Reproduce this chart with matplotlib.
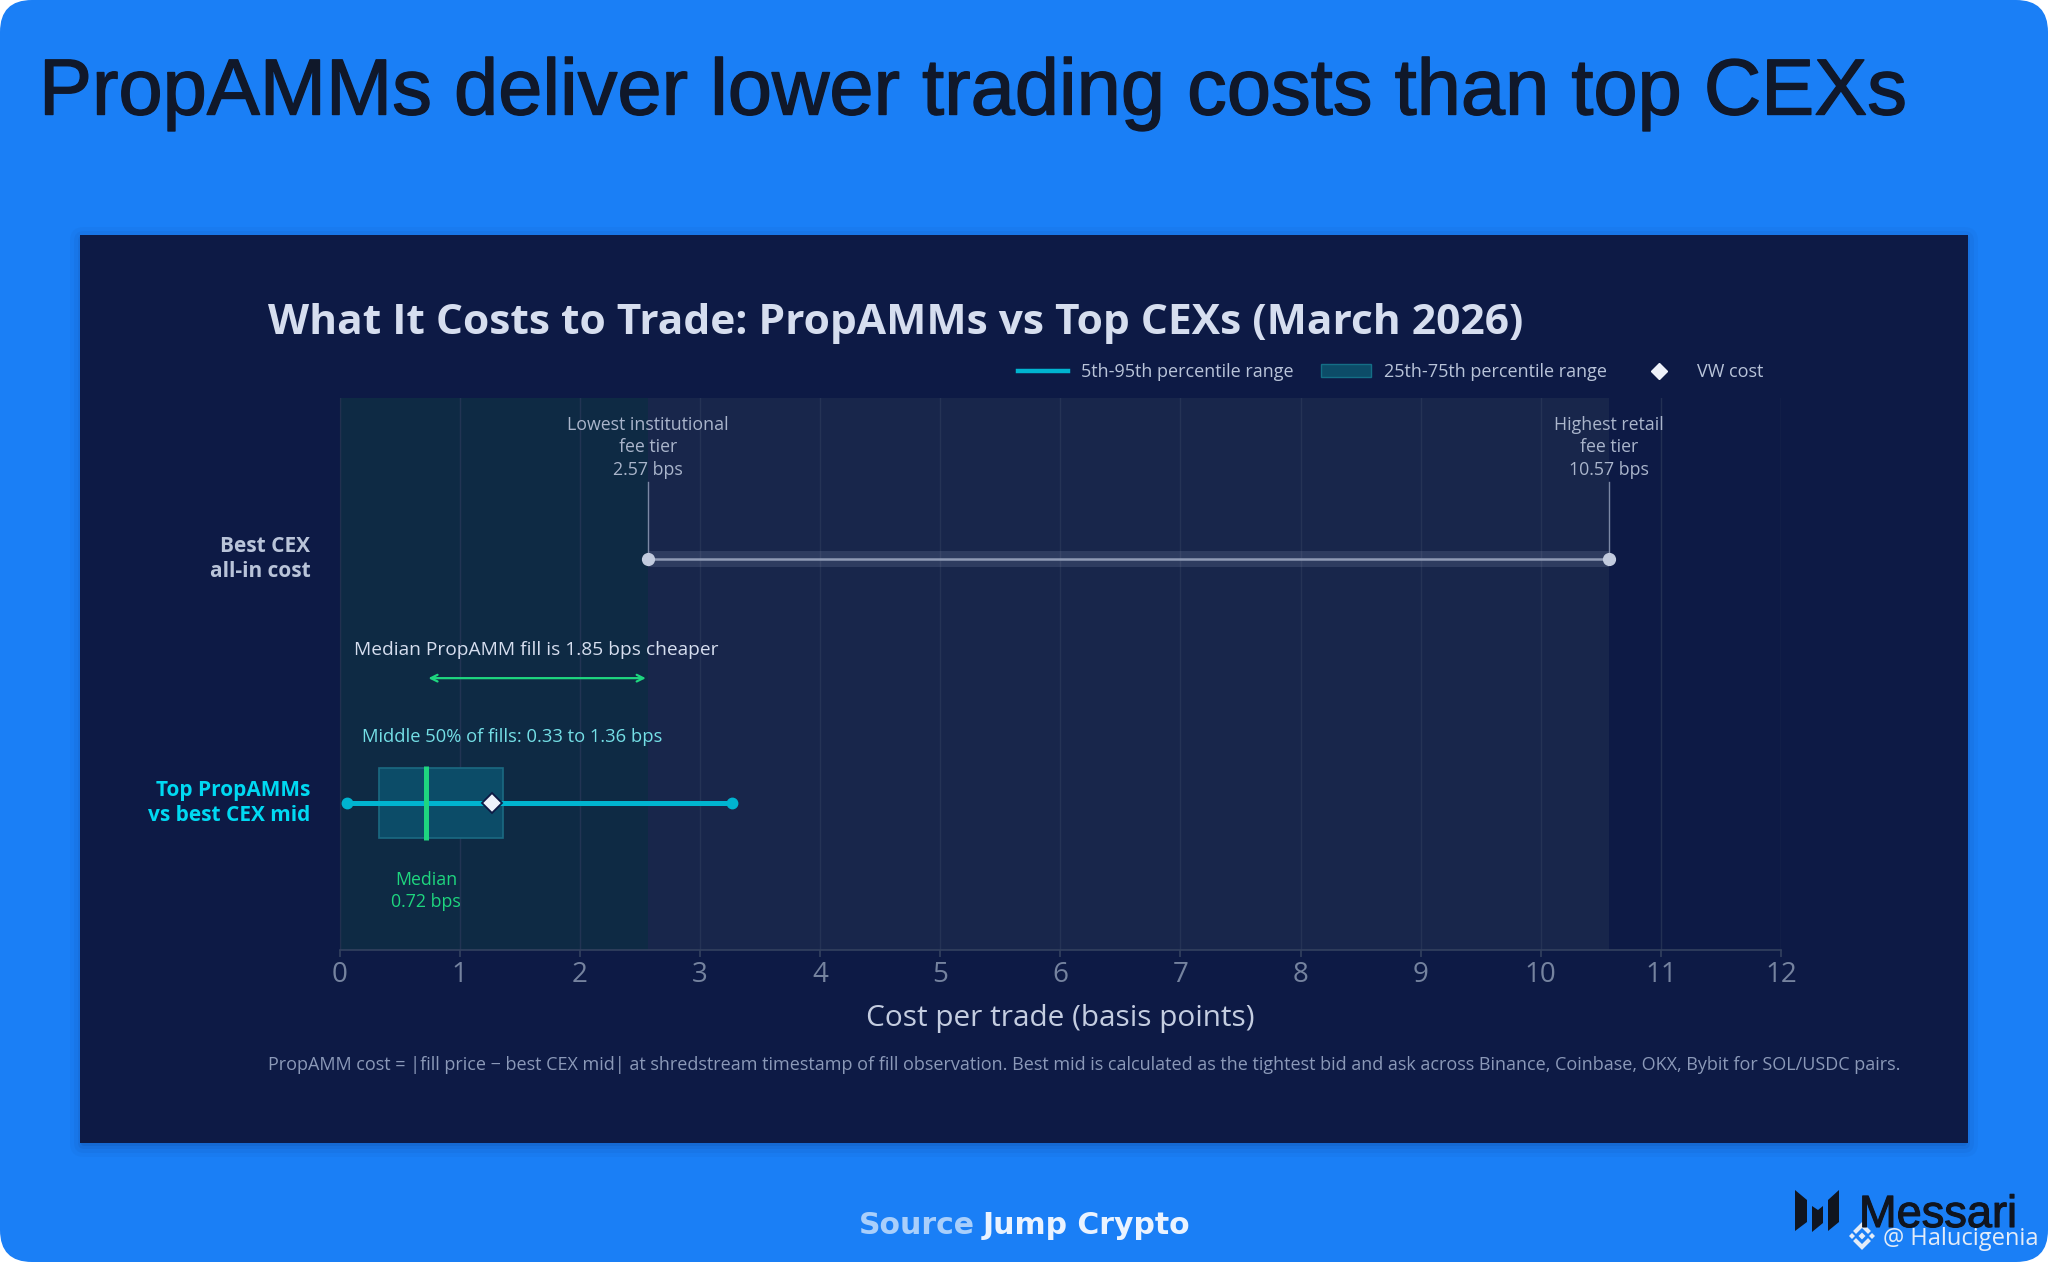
import matplotlib
matplotlib.use("Agg")
import matplotlib.pyplot as plt
import matplotlib.patheffects as pe
from matplotlib.patches import FancyBboxPatch, Rectangle, Polygon
from matplotlib.lines import Line2D
from matplotlib.transforms import ScaledTranslation

# ---- data
fee_low, fee_high = 2.57, 10.57
p5, p25, median, vw_cost, p75, p95 = 0.06, 0.33, 0.72, 1.27, 1.36, 3.27
arrow_from, arrow_to = 0.74, 2.55
categories = ["Top PropAMMs\nvs best CEX mid", "Best CEX\nall-in cost"]
cat_pos = [0, 1]
x_ticks = list(range(0, 13))
title_top = "PropAMMs deliver lower trading costs than top CEXs"
title_chart = "What It Costs to Trade: PropAMMs vs Top CEXs (March 2026)"
footnote = ("PropAMM cost = |fill price \u2212 best CEX mid| at shredstream timestamp of fill observation. "
            "Best mid is calculated as the tightest bid and ask across Binance, Coinbase, OKX, Bybit for SOL/USDC pairs.")

BLUE = "#1a7ff6"; PANEL = "#0d1a45"; TEAL = "#00b4d0"; GREEN = "#1ed67f"
FONT = "Open Sans"
W, H = 2048, 1262
fig = plt.figure(figsize=(W/100, H/100), dpi=100, facecolor="white")
rend = fig.canvas.get_renderer()

def fit(t, width):
    t.set_fontsize(t.get_fontsize() * width / t.get_window_extent(rend).width)
    return t

bg = fig.add_axes([0, 0, 1, 1], zorder=0)
bg.set_xlim(0, W); bg.set_ylim(H, 0); bg.axis("off")
bg.add_patch(FancyBboxPatch((0, 0), W, H, boxstyle="round,pad=0,rounding_size=32", fc=BLUE, ec="none"))
for g, a in [(14, .04), (10, .05), (6, .07), (3, .09)]:
    bg.add_patch(FancyBboxPatch((80-g+4, 235-g+6), 1888+2*g-8, 908+2*g-6,
                 boxstyle=f"round,pad=0,rounding_size={g}", fc="#0a2a60", ec="none", alpha=a))
bg.add_patch(Rectangle((80, 235), 1888, 908, fc=PANEL, ec="none"))
tt = fit(bg.text(39, 94, title_top, fontsize=60, family="Liberation Sans", color="#10182a", va="center", ha="left"), 1869)
tt.set_path_effects([pe.withStroke(linewidth=1.0, foreground="#10182a")])
fit(bg.text(268, 323, title_chart, fontsize=31, family=FONT, weight="bold", color="#d6deef", va="center"), 1251)
fit(bg.text(268, 1065, footnote, fontsize=13, family=FONT, color="#8b99b8", va="center"), 1631)
bg.text(975, 1226, "Source", fontsize=21.5, family="DejaVu Sans", weight="bold", color="#a9cffb", va="center", ha="right")
bg.text(983, 1226, "Jump Crypto", fontsize=21.5, family="DejaVu Sans", weight="bold", color="#eaf3ff", va="center", ha="left")
# Messari mark and watermark
for pts in ([(1795,1190),(1807,1200),(1807,1222),(1795,1231)],
            [(1812,1206),(1818,1210),(1823,1206),(1823,1223),(1812,1232)],
            [(1839,1190),(1828,1200),(1828,1231),(1839,1222)]):
    bg.add_patch(Polygon(pts, fc="#10151f", ec="none"))
mt = fit(bg.text(1859, 1227, "Messari", fontsize=34, family="Liberation Sans", color="#10151f", va="baseline"), 158)
mt.set_path_effects([pe.withStroke(linewidth=0.8, foreground="#10151f")])
ICON = "#e3ecf8"
for cx, cy, r in [(1862,1236,3.5),(1852,1236,3),(1872,1236,3)]:
    bg.add_patch(Polygon([(cx-r,cy),(cx,cy-r),(cx+r,cy),(cx,cy+r)], fc=ICON, ec="none"))
bg.plot([1856,1862,1868], [1231,1225,1231], color=ICON, lw=3, solid_joinstyle="miter")
bg.plot([1856,1862,1868], [1241,1247,1241], color=ICON, lw=3, solid_joinstyle="miter")
fit(bg.text(1883, 1245, "@ Halucigenia", fontsize=19.5, family=FONT, color=ICON, va="baseline"), 156)

# ---- chart axes (pixel frame 339.5..1781 / 398..949.5)
ax = fig.add_axes([339.5/W, 1-949.5/H, (1781-339.5)/W, (949.5-398)/H], zorder=1)
ax.patch.set_alpha(0)
ax.set_xlim(0, 12)
ax.set_ylim(-0.60, 1.66)
ax.set_xticks(x_ticks)
ax.set_xticklabels([str(t) for t in x_ticks], fontsize=20, family=FONT, color="#75839f")
ax.tick_params(axis="x", length=5, color="#33415f", width=1.2, pad=3)
ax.set_xlabel("Cost per trade (basis points)", fontsize=21.4, family=FONT, color="#c4cde0", labelpad=11)
ax.set_yticks(cat_pos)
ax.set_yticklabels(categories, fontsize=15, family=FONT, weight="bold", linespacing=1.25)
ax.tick_params(axis="y", length=0, pad=21)
tl = ax.get_yticklabels()
tl[0].set_color("#00d9f2"); tl[1].set_color("#b9c4d9")
up = ScaledTranslation(0, 5/100, fig.dpi_scale_trans)
for lab in tl:
    lab.set_transform(lab.get_transform() + up)
for s in ("top", "right"):
    ax.spines[s].set_visible(False)
ax.spines["left"].set_color("#22304f")
ax.spines["bottom"].set_color("#33415f"); ax.spines["bottom"].set_linewidth(1.2)

ax.axvspan(0, fee_low, fc="#0e2a44", ec="none", zorder=0.1)
ax.axvspan(fee_low, fee_high, fc="#18264b", ec="none", zorder=0.1)
ax.grid(axis="x", color="#2a3859", lw=1, alpha=.75, zorder=0.5)
ax.set_axisbelow(True)

# Best CEX range
ax.barh(1, fee_high-fee_low, left=fee_low, height=0.065, color="#8a97b8", alpha=.2, zorder=2)
ax.plot([fee_low, fee_high], [1, 1], color="#8f9ab5", lw=1.8, zorder=3)
ax.plot([fee_low, fee_high], [1, 1], ls="none", marker="o", ms=8.5, color="#c2cbde", zorder=4)
for x in (fee_low, fee_high):
    ax.plot([x, x], [1, 1.315], color="#7b88a5", lw=1, zorder=2)
ax.text(fee_low, 1.458, f"Lowest institutional\nfee tier\n{fee_low} bps", fontsize=12.8, family=FONT,
        color="#aab5cb", ha="center", va="center", linespacing=1.32)
ax.text(fee_high, 1.458, f"Highest retail\nfee tier\n{fee_high} bps", fontsize=12.8, family=FONT,
        color="#aab5cb", ha="center", va="center", linespacing=1.32)

# PropAMM range
ax.barh(0, p75-p25, left=p25, height=0.285, color="#0c4c68", ec="#1b6a82", lw=1.2, zorder=2)
ax.plot([p5, p95], [0, 0], color=TEAL, lw=3.6, zorder=3, solid_capstyle="round")
ax.plot([p5, p95], [0, 0], ls="none", marker="o", ms=7.5, color=TEAL, zorder=4)
ax.plot([median, median], [-0.15, 0.15], color=GREEN, lw=3.6, zorder=5, solid_capstyle="butt")
ax.plot([vw_cost], [0], ls="none", marker="D", ms=10.5, mfc="#eef2fa", mec="#0d1a45", mew=1.3, zorder=6)
ax.annotate("", xy=(arrow_to, 0.512), xytext=(arrow_from, 0.512),
            arrowprops=dict(arrowstyle="<->", color=GREEN, lw=1.6, mutation_scale=12, shrinkA=0, shrinkB=0))
fit(ax.text(1.64, 0.627, f"Median PropAMM fill is {fee_low-median:.2f} bps cheaper", fontsize=14, family=FONT,
        color="#d6deef", ha="center", va="center"), 365)
fit(ax.text(1.44, 0.269, f"Middle 50% of fills: {p25} to {p75} bps", fontsize=13, family=FONT,
        color="#74dfe6", ha="center", va="center"), 300)
ax.text(median, -0.36, f"Median\n{median} bps", fontsize=12.8, family=FONT, color=GREEN,
        ha="center", va="center", linespacing=1.32)

handles = [Line2D([], [], color=TEAL, lw=3.2),
           Rectangle((0, 0), 1, 1, fc="#0c4c68", ec="#146e86", lw=1),
           Line2D([], [], ls="none", marker="D", ms=7.8, color="#eef2fa")]
leg = ax.legend(handles, ["5th-95th percentile range", "25th-75th percentile range", "VW cost"],
                ncol=3, frameon=False, loc="center right", bbox_to_anchor=((1771-339.5)/1441.5, 1.047),
                labelcolor="#b9c4d9", prop={"family": FONT, "size": 13},
                handlelength=2.75, columnspacing=1.5, handletextpad=0.75, borderaxespad=0)

fig.savefig("out.png", dpi=100, facecolor="white")
